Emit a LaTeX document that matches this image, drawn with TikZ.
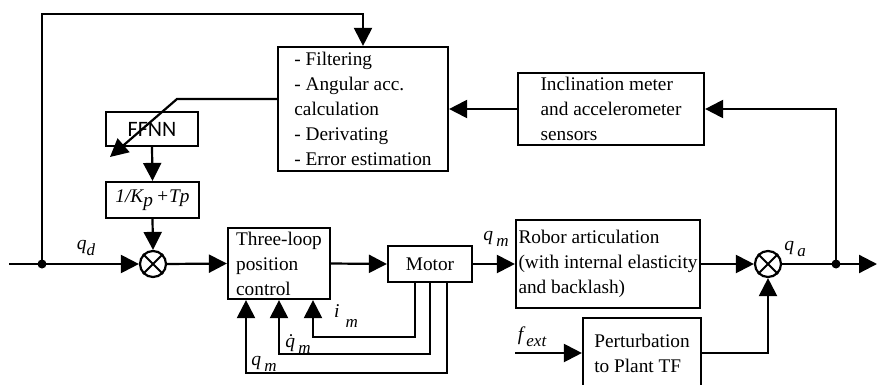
\documentclass[tikz,border=0pt]{standalone}
\usepackage{fontspec}
\setmainfont{Liberation Serif}
\newfontfamily\tnr{Liberation Serif}
\newfontfamily\ffnnfont{Carlito}
\usetikzlibrary{arrows.meta,calc}
\newcommand{\sbx}[2][-6pt]{\raisebox{#1}{\fontsize{17}{17}\selectfont #2}}
\begin{document}
\begin{tikzpicture}[x=1pt,y=-1pt,line width=2.2pt,
  box/.style={draw,line width=2.2pt,align=left,inner sep=0pt,font=\tnr\fontsize{19.3}{25}\selectfont},
  arr/.style={-{Triangle[length=18pt,width=18pt]}},
  sum/.style={draw,circle,minimum size=26pt,inner sep=0pt},
  lbl/.style={inner sep=0pt,font=\tnr\fontsize{19.5}{22}\selectfont\itshape}]
\clip (0,0) rectangle (877,385);
% blocks
\node[box,minimum width=170pt,minimum height=124pt] (filt) at (363,109)
  {- Filtering\\- Angular acc.\\calculation\\- Derivating\\- Error estimation};
\node[box,minimum width=92pt,minimum height=34pt,font=\ffnnfont\fontsize{22}{22}\selectfont] (ffnn) at (152,129) {FFNN};
\node[box,minimum width=93pt,minimum height=36pt] (kp) at (152.5,200) {\textit{1/K\raisebox{-4pt}{p}\,+Tp}};
\node[sum] (c1) at (153,264) {};
\node[box,minimum width=102pt,minimum height=71pt] (three) at (279,263.5) {Three-loop\\position\\control};
\node[box,minimum width=84pt,minimum height=36pt,align=center] (motor) at (430,264) {Motor};
\node[box,minimum width=184pt,minimum height=88pt] (robor) at (608,264) {Robor articulation\\(with internal elasticity\\and backlash)};
\node[sum] (c2) at (768,264) {};
\node[box,minimum width=186pt,minimum height=72pt] (incl) at (611,109) {Inclination meter\\and accelerometer\hspace*{16pt}\\sensors};
\node[box,minimum width=118pt,minimum height=70pt] (pert) at (642,353) {Perturbation\\to Plant TF};
% crosses
\draw[line width=1.8pt] (c1.north east) -- (c1.south west) (c1.north west) -- (c1.south east);
\draw[line width=1.8pt] (c2.north east) -- (c2.south west) (c2.north west) -- (c2.south east);
% coordinates
\coordinate (in) at (9,264);
\coordinate (d1) at (42,264);
\coordinate (top) at (363,14);
\coordinate (bend) at (177,99);
\coordinate (tip) at (110,157);
\coordinate (d2) at (836,264);
\coordinate (out) at (877,264);
\coordinate (fext) at (515,353);
% connectors
\draw[arr] (in) -- (c1.west);
\draw[arr] (d1) |- (top) -- (filt.north);
\draw[arr] ([yshift=10pt]filt.west) -- (bend) -- (tip);
\draw[arr] (ffnn.south) -- (kp.north);
\draw[arr] (kp.south) -- (c1.north);
\draw[arr] (c1.east) -- (three.west);
\draw[arr] (three.east) -- (motor.west);
\draw[arr] (motor.east) -- (robor.west);
\draw[arr] (robor.east) -- (c2.west);
\draw[arr] (c2.east) -- (out);
\draw[arr] (d2) |- (incl.east);
\draw[arr] (incl.west) -- (filt.east);
\draw[arr] (fext) -- (pert.west);
\draw[arr] (pert.east) -| (c2.south);
\draw[arr] ([xshift=-15pt]motor.south) -- ++(0,54) -| ([xshift=34pt]three.south);
\draw[arr] (motor.south) -- ++(0,71) -| (three.south);
\draw[arr] ([xshift=17pt]motor.south) -- ++(0,90) -| ([xshift=-33pt]three.south);
\fill (d1) circle (4.5pt);
\fill (d2) circle (4.5pt);
% labels
\node[lbl] (lqd) at (86,248) {q\sbx{d}};
\node[lbl] (lqm) at (496,239) {q\,\sbx{m}};
\node[lbl] (lqa) at (795,249) {q\,\sbx{a}};
\node[lbl] (lfe) at (532,337) {f\,\sbx{ext}};
\node[lbl] (lim) at (346,316) {i\hspace{6pt}\sbx[-10pt]{m}};
\node[lbl] (lqdm) at (298,344) {\.{q}\,\sbx{m}};
\node[lbl] (lqm2) at (264,364) {q\,\sbx{m}};
\end{tikzpicture}
\end{document}
